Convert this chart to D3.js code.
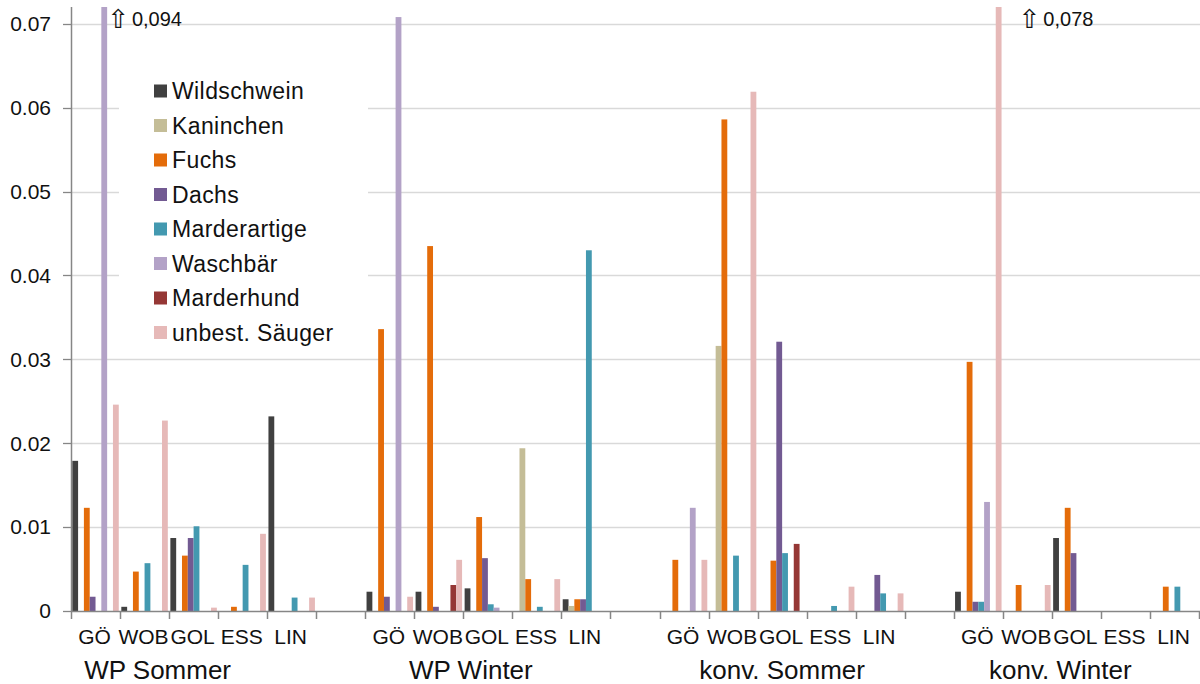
<!DOCTYPE html>
<html><head><meta charset="utf-8">
<script src="https://cdn.jsdelivr.net/npm/d3@7"></script>
<style>
html,body{margin:0;padding:0;background:#fff;}
svg{display:block;font-family:"Liberation Sans",Arial,sans-serif;}
</style></head>
<body><svg id="chart" width="1200" height="684"></svg>
<script>
// ---------- data ----------
const groups = ["WP Sommer", "WP Winter", "konv. Sommer", "konv. Winter"];
const sites = ["GÖ", "WOB", "GOL", "ESS", "LIN"];
const species = ["Wildschwein", "Kaninchen", "Fuchs", "Dachs", "Marderartige", "Waschbär", "Marderhund", "unbest. Säuger"];
const yTicks = [0, 0.01, 0.02, 0.03, 0.04, 0.05, 0.06, 0.07];
const yTickLabels = ["0", "0.01", "0.02", "0.03", "0.04", "0.05", "0.06", "0.07"];
// values per species, order: group (WP Sommer, WP Winter, konv. Sommer, konv. Winter) x site (GÖ, WOB, GOL, ESS, LIN)
const wildschwein = [0.0179, 0.0005, 0.0087, 0, 0.0232,  0.0023, 0.0023, 0.0027, 0, 0.0014,  0, 0, 0, 0, 0,  0.0023, 0, 0.0087, 0, 0];
const kaninchen   = [0, 0, 0, 0, 0,  0, 0, 0, 0.0194, 0.0006,  0, 0.0316, 0, 0, 0,  0, 0, 0, 0, 0];
const fuchs       = [0.0123, 0.0047, 0.0066, 0.0005, 0,  0.0336, 0.0435, 0.0112, 0.0038, 0.0014,  0.0061, 0.0586, 0.0060, 0, 0,  0.0297, 0.0031, 0.0123, 0, 0.0029];
const dachs       = [0.0017, 0, 0.0087, 0, 0,  0.0017, 0.0005, 0.0063, 0, 0.0014,  0, 0, 0.0321, 0, 0.0043,  0.0011, 0, 0.0069, 0, 0];
const marderartige= [0, 0.0057, 0.0101, 0.0055, 0.0016,  0, 0, 0.0008, 0.0005, 0.0430,  0, 0.0066, 0.0069, 0.0006, 0.0021,  0.0011, 0, 0, 0, 0.0029];
const waschbaer   = [0.094, 0, 0, 0, 0,  0.0708, 0, 0.0004, 0, 0,  0.0123, 0, 0, 0, 0,  0.0130, 0, 0, 0, 0];
const marderhund  = [0, 0, 0, 0, 0,  0, 0.0031, 0, 0, 0,  0, 0, 0.0080, 0, 0,  0, 0, 0, 0, 0];
const unbest      = [0.0246, 0.0227, 0.0004, 0.0092, 0.0016,  0.0017, 0.0061, 0, 0.0038, 0,  0.0061, 0.0619, 0, 0.0029, 0.0021,  0.0780, 0.0031, 0, 0, 0];
const seriesValues = [wildschwein, kaninchen, fuchs, dachs, marderartige, waschbaer, marderhund, unbest];
const colors = ["#404040", "#c4bd97", "#e46c0a", "#725a92", "#4399b0", "#b3a2c7", "#953735", "#e6b9b8"];
// off-scale annotations: [group, site, species, value label]
const overflowNotes = [["WP Sommer", "GÖ", "Waschbär", "0,094"], ["konv. Winter", "GÖ", "unbest. Säuger", "0,078"]];

// ---------- layout ----------
const pLeft = 71, pRight = 1199, pTop = 7, pBottom = 611;
const yMax = 0.072;
const svg = d3.select("#chart");

const slots = [];
groups.forEach((g, gi) => {
  sites.forEach(s => slots.push(g + "|" + s));
  if (gi < groups.length - 1) slots.push(g + "|_blank");
});
const x = d3.scaleBand().domain(slots).range([pLeft, pRight]).paddingInner(0).paddingOuter(0);
const xs = d3.scaleBand().domain(species).range([0, x.bandwidth()]).paddingInner(0).paddingOuter(0.22);
const y = d3.scaleLinear().domain([0, yMax]).range([pBottom, pTop]);

// gridlines
svg.append("g").selectAll("line").data(yTicks.filter(d => d > 0)).join("line")
  .attr("x1", pLeft).attr("x2", pRight + 1).attr("y1", d => Math.round(y(d)) + 0.5).attr("y2", d => Math.round(y(d)) + 0.5)
  .attr("stroke", "#d9d9d9").attr("stroke-width", 1.3);

// bars
svg.append("defs").append("clipPath").attr("id", "plotclip").append("rect")
  .attr("x", pLeft).attr("y", pTop).attr("width", pRight - pLeft + 2).attr("height", pBottom - pTop);
const barData = [];
seriesValues.forEach((vals, si) => {
  vals.forEach((v, i) => {
    const g = groups[Math.floor(i / sites.length)], s = sites[i % sites.length];
    if (v > 0) barData.push({ g, s, sp: species[si], v, c: colors[si] });
  });
});
svg.append("g").attr("clip-path", "url(#plotclip)").selectAll("rect").data(barData).join("rect")
  .attr("x", d => x(d.g + "|" + d.s) + xs(d.sp))
  .attr("width", xs.bandwidth())
  .attr("y", d => y(Math.min(d.v, yMax)))
  .attr("height", d => pBottom - y(Math.min(d.v, yMax)))
  .attr("fill", d => d.c);

// axes lines
const axisColor = "#868686";
svg.append("line").attr("x1", pLeft + 0.5).attr("x2", pLeft + 0.5).attr("y1", pTop).attr("y2", pBottom + 1)
  .attr("stroke", axisColor).attr("stroke-width", 1.5);
svg.append("line").attr("x1", pLeft).attr("x2", pRight + 1).attr("y1", pBottom + 0.5).attr("y2", pBottom + 0.5)
  .attr("stroke", axisColor).attr("stroke-width", 1.5);

// y ticks + labels
const yAxisG = svg.append("g");
yAxisG.selectAll("line").data(yTicks).join("line")
  .attr("x1", pLeft - 8).attr("x2", pLeft).attr("y1", d => Math.round(y(d)) + 0.5).attr("y2", d => Math.round(y(d)) + 0.5)
  .attr("stroke", axisColor).attr("stroke-width", 1.3);
yAxisG.selectAll("text").data(yTicks).join("text")
  .attr("x", 51).attr("y", d => y(d)).attr("dy", "0.35em")
  .attr("text-anchor", "end").attr("font-size", 21).attr("fill", "#111")
  .text((d, i) => yTickLabels[i]);

// x ticks at slot boundaries
const boundaries = slots.map(s => x(s)).concat([pRight]);
svg.append("g").selectAll("line").data(boundaries).join("line")
  .attr("x1", d => Math.round(d) + 0.5).attr("x2", d => Math.round(d) + 0.5)
  .attr("y1", pBottom).attr("y2", pBottom + 8)
  .attr("stroke", axisColor).attr("stroke-width", 1.5);

// site labels
const siteSlots = slots.filter(s => !s.endsWith("_blank"));
svg.append("g").selectAll("text").data(siteSlots).join("text")
  .attr("x", d => x(d) + x.bandwidth() / 2 - 1).attr("y", 644)
  .attr("text-anchor", "middle").attr("font-size", 21).attr("fill", "#111")
  .text(d => d.split("|")[1]);

// group labels
const groupDx = [-36, -17, 0, -16];
svg.append("g").selectAll("text").data(groups).join("text")
  .attr("x", (g, i) => (x(g + "|" + sites[0]) + x(g + "|" + sites[sites.length - 1]) + x.bandwidth()) / 2 + groupDx[i])
  .attr("y", 679)
  .attr("text-anchor", "middle").attr("font-size", 26).attr("fill", "#111")
  .text(d => d);

// overflow annotations
const noteDx = [0, 17];
const notes = svg.append("g").selectAll("text").data(overflowNotes).join("text")
  .attr("x", (d, i) => x(d[0] + "|" + d[1]) + xs(d[2]) + xs.bandwidth() + noteDx[i])
  .attr("y", 26)
  .attr("font-size", 20).attr("fill", "#111");
notes.append("tspan").attr("font-family", "DejaVu Sans").attr("font-size", 26).attr("dy", 2).text("⇧");
notes.append("tspan").attr("dx", 3).attr("dy", -2).text(d => d[3]);

// legend
const lg = svg.append("g");
lg.append("rect").attr("x", 119).attr("y", 66).attr("width", 249).attr("height", 284).attr("fill", "#fff");
const li = lg.selectAll("g").data(species).join("g")
  .attr("transform", (d, i) => `translate(154, ${91 + i * 34.5})`);
li.append("rect").attr("x", 0).attr("y", -6.5).attr("width", 13).attr("height", 13).attr("fill", (d, i) => colors[i]);
li.append("text").attr("x", 18).attr("y", 0).attr("dy", "0.36em").attr("font-size", 23)
  .attr("letter-spacing", 0.4).attr("fill", "#111").text(d => d);
</script>
</body></html>
